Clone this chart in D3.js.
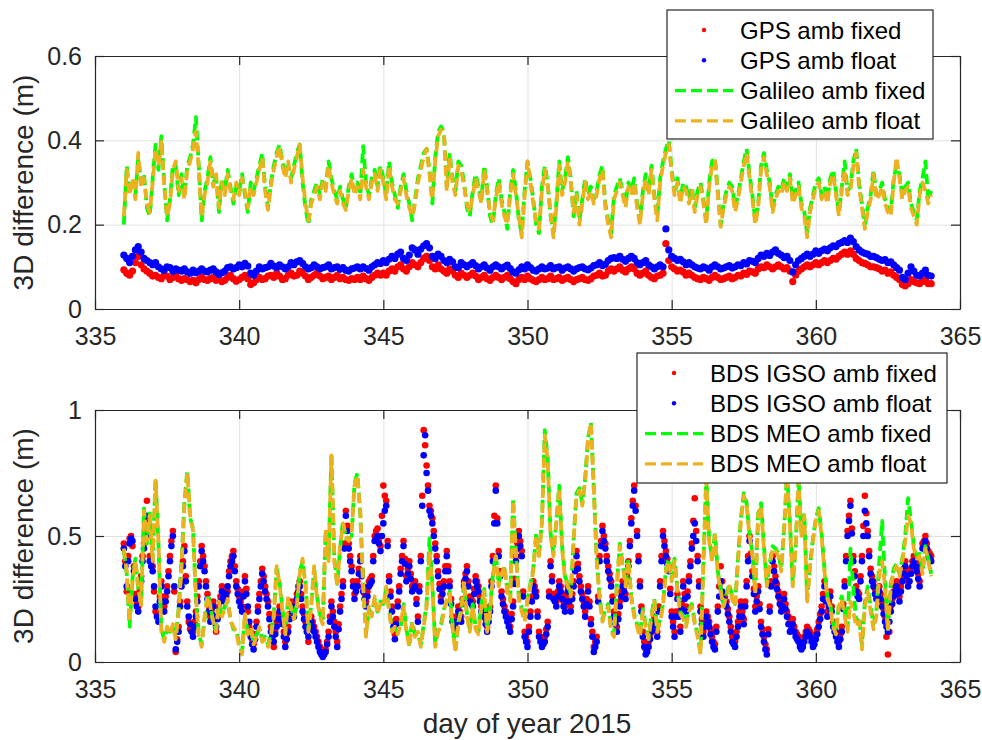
<!DOCTYPE html>
<html>
<head>
<meta charset="utf-8">
<script src="https://cdn.jsdelivr.net/npm/d3@7"></script>
<style>
body { margin: 0; background: #fff; }
</style>
</head>
<body>
<svg id="plot"></svg>
<script>
// epochs start at day 336.0; GPS/Galileo/MEO every 0.1 day, IGSO every 0.05 day
var t0 = 336, dt = 0.1, dtIgso = 0.05;

var xTicks = [335, 340, 345, 350, 355, 360, 365];
var topYTicks = [0, 0.2, 0.4, 0.6];
var botYTicks = [0, 0.5, 1];

var topLabels = ["GPS amb fixed", "GPS amb float", "Galileo amb fixed", "Galileo amb float"];
var botLabels = ["BDS IGSO amb fixed", "BDS IGSO amb float", "BDS MEO amb fixed", "BDS MEO amb float"];

var gpsFixed = [
  .093,.085,.08,.09,.11,.125,.105,.095,.09,.085,   // 336
  .078,.08,.075,.072,.08,.078,.07,.075,.08,.072,
  .068,.072,.07,.065,.068,.062,.07,.075,.07,.068,
  .072,.075,.068,.07,.065,.068,.075,.08,.072,.066,
  .07,.075,.08,.072,.058,.062,.07,.075,.07,.072,   // 340
  .078,.08,.075,.085,.078,.07,.072,.08,.085,.078,
  .08,.09,.085,.078,.07,.075,.08,.085,.078,.072,
  .075,.078,.07,.075,.08,.072,.075,.07,.068,.072,
  .07,.075,.07,.078,.072,.068,.075,.08,.085,.08,
  .085,.08,.09,.095,.09,.1,.105,.095,.09,.1,       // 345
  .11,.105,.1,.11,.12,.125,.115,.1,.095,.105,
  .095,.09,.085,.095,.09,.08,.075,.085,.08,.075,
  .08,.085,.078,.07,.075,.08,.072,.068,.075,.08,
  .075,.07,.075,.08,.072,.065,.06,.07,.075,.07,
  .078,.072,.068,.065,.07,.075,.07,.072,.078,.07,  // 350
  .072,.075,.068,.072,.075,.07,.065,.07,.072,.075,
  .07,.068,.072,.078,.08,.085,.078,.08,.09,.095,
  .09,.095,.1,.092,.088,.095,.1,.095,.085,.08,
  .085,.09,.08,.075,.072,.078,.08,.085,.155,.115,
  .1,.095,.09,.092,.088,.08,.085,.08,.075,.072,    // 355
  .07,.075,.072,.068,.075,.08,.075,.07,.072,.075,
  .078,.072,.075,.08,.078,.085,.082,.09,.088,.085,
  .095,.1,.098,.105,.1,.095,.1,.105,.1,.095,
  .098,.09,.065,.08,.09,.095,.1,.105,.1,.105,
  .11,.105,.11,.115,.11,.115,.12,.118,.125,.13,    // 360
  .135,.13,.138,.13,.12,.115,.11,.108,.105,.1,
  .1,.098,.095,.09,.092,.085,.088,.08,.075,.07,
  .058,.055,.06,.07,.065,.062,.06,.065,.07,.06,
  .06
];

var gpsFloat = [
  .128,.12,.11,.125,.14,.148,.135,.12,.115,.11,      // 336
  .105,.11,.1,.095,.092,.1,.098,.09,.095,.092,
  .09,.095,.088,.085,.092,.086,.09,.095,.09,.088,
  .092,.095,.088,.082,.086,.09,.098,.1,.095,.098,
  .105,.1,.108,.102,.085,.08,.09,.1,.095,.098,       // 340
  .1,.108,.102,.098,.105,.1,.095,.1,.11,.105,
  .112,.115,.108,.1,.095,.098,.105,.1,.095,.098,
  .1,.105,.095,.098,.1,.094,.098,.092,.09,.095,
  .097,.1,.095,.1,.096,.092,.1,.105,.11,.108,
  .115,.11,.118,.125,.12,.13,.135,.12,.115,.128,     // 345
  .145,.14,.13,.142,.15,.155,.145,.125,.12,.13,
  .125,.115,.11,.118,.112,.1,.098,.11,.105,.1,
  .105,.11,.103,.095,.1,.105,.097,.092,.1,.105,
  .1,.095,.1,.104,.096,.088,.085,.093,.1,.095,
  .105,.098,.092,.09,.095,.1,.095,.097,.103,.095,    // 350
  .098,.1,.092,.097,.1,.095,.09,.095,.098,.1,
  .095,.093,.097,.103,.105,.11,.103,.106,.115,.12,
  .122,.12,.125,.118,.113,.12,.125,.12,.11,.105,
  .11,.115,.105,.1,.095,.1,.105,.1,.19,.14,
  .125,.12,.115,.118,.112,.105,.11,.105,.1,.097,     // 355
  .095,.1,.097,.092,.1,.105,.1,.095,.097,.1,
  .103,.097,.1,.105,.103,.11,.107,.115,.113,.11,
  .12,.128,.125,.132,.127,.135,.14,.132,.128,.122,
  .125,.115,.088,.105,.115,.12,.125,.13,.125,.13,
  .138,.132,.138,.142,.138,.145,.15,.148,.155,.158,  // 360
  .162,.158,.168,.16,.148,.14,.135,.132,.13,.125,
  .125,.122,.118,.115,.117,.11,.112,.105,.098,.092,
  .075,.07,.085,.1,.09,.08,.078,.085,.092,.08,
  .078
];

var galFixed = [
  .20,.34,.28,.30,.27,.36,.30,.32,.24,.22,   // 336
  .31,.39,.33,.41,.30,.21,.26,.34,.34,.27,
  .32,.27,.34,.36,.39,.455,.34,.21,.28,.31,
  .36,.30,.31,.23,.31,.28,.33,.29,.25,.29,
  .28,.32,.27,.23,.30,.28,.31,.34,.37,.29,   // 340
  .24,.30,.34,.37,.39,.35,.32,.34,.31,.34,
  .37,.39,.30,.24,.20,.26,.28,.30,.27,.31,
  .29,.35,.31,.28,.26,.29,.26,.24,.29,.32,
  .28,.30,.27,.386,.30,.27,.31,.33,.29,.34,
  .31,.27,.35,.30,.27,.24,.29,.32,.28,.25,   // 345
  .21,.26,.31,.34,.37,.38,.33,.25,.36,.42,
  .433,.42,.29,.37,.31,.28,.35,.34,.30,.24,
  .22,.28,.32,.29,.26,.34,.29,.22,.20,.27,
  .31,.26,.23,.19,.28,.33,.28,.21,.18,.28,
  .35,.31,.26,.20,.18,.29,.34,.30,.22,.18,   // 350
  .25,.35,.28,.31,.36,.31,.22,.28,.21,.26,
  .31,.27,.29,.26,.28,.32,.34,.25,.21,.18,
  .27,.29,.31,.28,.25,.30,.28,.31,.25,.21,
  .28,.32,.28,.34,.27,.22,.31,.35,.38,.40,
  .33,.28,.31,.26,.30,.29,.26,.29,.24,.28,   // 355
  .30,.26,.21,.30,.35,.36,.28,.20,.25,.28,
  .30,.29,.24,.27,.31,.35,.38,.32,.27,.21,
  .25,.34,.37,.33,.30,.24,.27,.29,.28,.31,
  .29,.32,.26,.28,.30,.25,.23,.18,.24,.27,
  .30,.31,.27,.29,.26,.31,.33,.28,.23,.29,   // 360
  .35,.28,.29,.35,.38,.30,.25,.20,.24,.27,
  .33,.27,.28,.30,.26,.24,.23,.31,.34,.32,
  .27,.29,.30,.25,.23,.21,.28,.31,.35,.26,
  .28
];

var galFloat = [
  .22,.33,.27,.31,.26,.37,.29,.31,.25,.23,   // 336
  .30,.38,.34,.40,.29,.22,.25,.33,.35,.28,
  .31,.26,.33,.35,.38,.42,.33,.22,.27,.30,
  .35,.29,.32,.24,.30,.27,.32,.28,.26,.30,
  .27,.31,.28,.24,.29,.27,.30,.33,.36,.28,   // 340
  .235,.29,.33,.36,.385,.34,.31,.35,.30,.33,
  .36,.39,.31,.25,.21,.25,.27,.29,.26,.30,
  .28,.34,.30,.27,.25,.28,.25,.235,.28,.31,
  .27,.29,.26,.33,.29,.26,.30,.32,.28,.33,
  .30,.26,.34,.29,.26,.25,.28,.31,.27,.24,   // 345
  .22,.25,.30,.33,.36,.38,.32,.26,.35,.41,
  .425,.42,.28,.36,.30,.27,.34,.33,.29,.25,
  .23,.27,.31,.28,.25,.33,.28,.23,.21,.26,
  .30,.25,.22,.20,.27,.32,.27,.22,.17,.27,
  .35,.30,.25,.21,.19,.28,.33,.29,.23,.17,   // 350
  .24,.34,.27,.30,.35,.30,.23,.27,.20,.25,
  .30,.26,.28,.25,.27,.31,.33,.24,.20,.17,
  .26,.28,.30,.27,.24,.29,.27,.30,.24,.20,
  .27,.31,.27,.33,.26,.21,.30,.34,.37,.39,
  .32,.27,.30,.25,.29,.28,.25,.28,.23,.27,   // 355
  .29,.25,.20,.29,.34,.35,.27,.195,.24,.27,
  .29,.28,.23,.26,.30,.34,.37,.31,.26,.20,
  .24,.33,.36,.32,.29,.23,.26,.28,.27,.30,
  .28,.31,.25,.27,.29,.24,.22,.17,.23,.26,
  .29,.30,.26,.28,.25,.30,.32,.27,.22,.28,   // 360
  .33,.27,.28,.34,.37,.29,.24,.19,.23,.26,
  .32,.26,.27,.29,.25,.23,.22,.30,.36,.31,
  .26,.28,.29,.24,.22,.20,.27,.30,.28,.25,
  .27
];

// IGSO: 20 values per day
var igsoFixed = [
  .47,.40,.28,.42,.49,.50,.46,.38,.27,.23,.22,.28,.34,.42,.47,.56,.64,.52,.42,.40,   // 336
  .38,.28,.20,.19,.18,.26,.32,.26,.22,.26,.30,.36,.42,.48,.52,.28,.04,.09,.14,.24,
  .32,.40,.46,.34,.24,.16,.13,.13,.12,.16,.20,.26,.32,.40,.46,.42,.38,.32,.27,.22,
  .18,.21,.24,.17,.12,.18,.22,.26,.30,.28,.26,.26,.28,.36,.40,.42,.44,.38,.32,.29,
  .26,.24,.22,.28,.34,.29,.20,.14,.12,.09,.07,.11,.16,.22,.27,.32,.37,.34,.30,.27,   // 340
  .24,.19,.14,.09,.06,.12,.16,.19,.22,.19,.17,.12,.08,.11,.14,.19,.24,.22,.20,.24,
  .27,.30,.32,.27,.22,.19,.16,.12,.08,.15,.18,.16,.14,.12,.10,.08,.06,.04,.03,.04,
  .05,.08,.12,.18,.24,.20,.16,.12,.08,.15,.22,.27,.32,.47,.60,.54,.47,.42,.38,.32,
  .27,.30,.32,.37,.42,.36,.30,.27,.24,.28,.32,.33,.34,.42,.50,.52,.53,.49,.46,.58,
  .70,.66,.64,.48,.34,.28,.22,.16,.11,.17,.24,.30,.37,.42,.48,.41,.34,.37,.40,.35,   // 345
  .30,.31,.32,.25,.18,.30,.42,.66,.92,.86,.78,.70,.62,.60,.57,.52,.47,.42,.36,.31,
  .26,.29,.32,.38,.44,.38,.32,.25,.18,.16,.14,.18,.22,.20,.18,.25,.32,.35,.38,.32,
  .26,.25,.24,.29,.34,.32,.30,.26,.22,.21,.20,.17,.14,.18,.22,.32,.42,.58,.70,.57,
  .44,.36,.28,.25,.22,.20,.18,.16,.14,.19,.24,.33,.42,.47,.52,.48,.44,.28,.12,.10,
  .08,.14,.20,.26,.32,.30,.28,.20,.12,.10,.08,.09,.10,.13,.16,.28,.40,.34,.27,.26,   // 350
  .24,.28,.32,.30,.27,.24,.22,.26,.30,.26,.22,.27,.32,.38,.44,.39,.34,.30,.27,.24,
  .20,.25,.30,.24,.17,.12,.06,.08,.10,.26,.42,.48,.54,.50,.47,.42,.38,.35,.32,.26,
  .20,.17,.14,.19,.24,.28,.32,.30,.27,.34,.40,.48,.57,.64,.70,.62,.52,.42,.32,.22,
  .12,.08,.05,.06,.08,.11,.14,.16,.18,.15,.12,.22,.32,.42,.52,.48,.44,.41,.38,.29,
  .20,.16,.12,.20,.27,.20,.14,.23,.32,.27,.22,.28,.34,.40,.47,.56,.65,.52,.42,.32,   // 355
  .22,.17,.12,.16,.20,.18,.16,.13,.10,.08,.07,.14,.22,.30,.38,.32,.27,.26,.24,.21,
  .18,.14,.10,.09,.08,.12,.16,.20,.24,.20,.17,.24,.32,.42,.50,.43,.36,.29,.22,.26,
  .30,.23,.16,.13,.10,.07,.05,.13,.22,.32,.42,.38,.34,.31,.28,.25,.22,.24,.27,.23,
  .20,.18,.16,.16,.17,.14,.12,.11,.10,.08,.07,.08,.10,.12,.14,.13,.12,.10,.08,.09,
  .11,.13,.16,.19,.22,.27,.32,.26,.20,.24,.28,.22,.16,.14,.12,.10,.08,.11,.14,.23,   // 360
  .32,.42,.52,.58,.64,.53,.42,.36,.30,.28,.27,.34,.42,.54,.66,.59,.52,.44,.37,.34,
  .32,.29,.27,.28,.30,.27,.24,.21,.18,.10,.03,.12,.22,.25,.28,.30,.32,.29,.26,.30,
  .34,.37,.40,.36,.32,.35,.37,.40,.42,.40,.38,.35,.32,.40,.47,.48,.50,.47,.44,.43,
  .42
];

var igsoFloat = [
  .45,.38,.30,.40,.47,.49,.48,.36,.25,.22,.20,.26,.32,.40,.45,.52,.58,.50,.40,.38,   // 336
  .36,.30,.22,.18,.16,.24,.30,.24,.20,.24,.28,.34,.40,.46,.50,.30,.05,.08,.12,.22,
  .30,.38,.44,.32,.22,.18,.15,.12,.10,.14,.18,.24,.30,.38,.44,.40,.36,.30,.25,.20,
  .16,.19,.22,.18,.14,.17,.20,.24,.28,.26,.24,.27,.30,.34,.38,.40,.42,.36,.30,.27,
  .24,.22,.20,.26,.32,.27,.22,.16,.10,.07,.05,.09,.14,.20,.25,.30,.35,.32,.28,.25,   // 340
  .22,.17,.12,.10,.08,.11,.14,.17,.20,.17,.15,.10,.06,.09,.12,.17,.22,.20,.18,.22,
  .25,.28,.30,.25,.20,.17,.14,.12,.10,.13,.16,.14,.12,.10,.08,.06,.04,.03,.02,.03,
  .04,.07,.10,.16,.22,.18,.14,.10,.06,.13,.20,.25,.30,.45,.58,.52,.45,.40,.36,.30,
  .25,.28,.30,.35,.40,.34,.28,.25,.22,.26,.30,.31,.32,.40,.48,.49,.50,.47,.44,.50,
  .55,.60,.62,.46,.32,.26,.20,.14,.09,.15,.22,.28,.35,.40,.46,.39,.32,.35,.38,.33,   // 345
  .28,.29,.30,.23,.16,.28,.40,.62,.82,.90,.75,.68,.60,.58,.55,.50,.45,.40,.34,.29,
  .24,.27,.30,.36,.42,.36,.30,.23,.16,.14,.12,.16,.20,.18,.16,.23,.30,.33,.36,.30,
  .24,.23,.22,.27,.32,.30,.28,.24,.20,.19,.18,.15,.12,.16,.20,.30,.40,.55,.68,.55,
  .42,.34,.26,.23,.20,.18,.16,.14,.12,.17,.22,.31,.40,.45,.50,.46,.42,.26,.10,.08,
  .06,.12,.18,.24,.30,.28,.26,.18,.10,.08,.06,.07,.08,.11,.14,.26,.38,.32,.25,.24,   // 350
  .22,.26,.30,.28,.25,.22,.20,.24,.28,.24,.20,.25,.30,.36,.42,.37,.32,.28,.25,.22,
  .18,.23,.28,.22,.15,.10,.04,.06,.08,.24,.40,.46,.52,.48,.45,.40,.36,.33,.30,.24,
  .18,.15,.12,.17,.22,.26,.30,.28,.25,.32,.38,.46,.55,.62,.68,.60,.50,.40,.30,.20,
  .10,.06,.03,.04,.06,.09,.12,.14,.16,.13,.10,.20,.30,.40,.50,.46,.42,.39,.36,.27,
  .18,.14,.10,.18,.25,.18,.12,.21,.30,.25,.20,.26,.32,.38,.45,.50,.55,.48,.40,.30,   // 355
  .20,.15,.10,.14,.18,.16,.14,.11,.08,.06,.05,.12,.20,.26,.32,.28,.25,.24,.22,.19,
  .16,.12,.08,.07,.06,.10,.14,.18,.22,.18,.15,.22,.30,.40,.48,.41,.34,.27,.20,.24,
  .28,.21,.14,.11,.08,.05,.03,.11,.20,.30,.40,.36,.32,.29,.26,.23,.20,.22,.25,.21,
  .18,.15,.12,.13,.15,.12,.10,.09,.08,.06,.05,.06,.08,.10,.12,.11,.10,.08,.06,.07,
  .09,.11,.14,.17,.20,.25,.30,.24,.18,.22,.26,.20,.14,.12,.10,.08,.06,.09,.12,.21,   // 360
  .30,.40,.50,.56,.62,.51,.40,.34,.28,.26,.25,.32,.40,.50,.60,.55,.50,.42,.35,.32,
  .30,.27,.25,.26,.28,.25,.22,.19,.16,.14,.12,.16,.20,.23,.26,.28,.30,.27,.24,.28,
  .32,.35,.38,.34,.30,.32,.35,.38,.40,.38,.36,.33,.30,.38,.45,.46,.48,.45,.42,.41,
  .40
];

var meoFixed = [
  .44,.35,.14,.33,.41,.29,.23,.61,.47,.59,   // 336
  .41,.73,.47,.13,.09,.13,.12,.14,.10,.21,
  .39,.63,.76,.57,.53,.25,.11,.07,.17,.27,
  .23,.15,.13,.23,.19,.22,.24,.17,.13,.13,
  .07,.04,.18,.12,.13,.08,.11,.13,.09,.10,   // 340
  .07,.11,.19,.37,.32,.21,.12,.25,.22,.18,
  .23,.36,.40,.31,.13,.23,.37,.26,.19,.16,
  .52,.41,.83,.41,.31,.45,.56,.49,.49,.50,
  .71,.75,.59,.31,.11,.21,.19,.25,.20,.24,
  .23,.29,.21,.13,.13,.12,.14,.23,.13,.07,   // 345
  .16,.11,.11,.07,.15,.23,.49,.31,.07,.13,
  .15,.21,.24,.28,.15,.05,.16,.21,.31,.19,
  .13,.23,.14,.12,.23,.29,.13,.21,.35,.43,
  .31,.36,.37,.29,.25,.65,.43,.26,.21,.17,
  .25,.31,.37,.51,.43,.56,.92,.81,.51,.43,   // 350
  .56,.70,.46,.34,.31,.27,.49,.67,.69,.63,
  .73,.89,.95,.69,.41,.26,.17,.21,.23,.13,
  .11,.31,.47,.39,.31,.41,.26,.19,.15,.11,
  .21,.15,.10,.19,.25,.13,.17,.23,.37,.41,
  .33,.41,.29,.20,.18,.15,.21,.23,.16,.11,   // 355
  .04,.39,.74,.49,.41,.51,.36,.29,.23,.27,
  .31,.26,.23,.41,.57,.67,.63,.51,.43,.28,
  .59,.63,.46,.31,.39,.46,.45,.43,.37,.53,
  .75,.56,.31,.46,.73,.51,.59,.25,.39,.49,
  .57,.61,.51,.37,.26,.23,.15,.12,.23,.26,   // 360
  .20,.14,.45,.30,.16,.18,.07,.24,.30,.22,
  .15,.20,.40,.56,.32,.13,.31,.37,.39,.35,
  .41,.50,.65,.56,.46,.42,.43,.36,.46,.41,
  .35
];

var meoFloat = [
  .45,.36,.16,.32,.40,.30,.22,.60,.48,.58,   // 336
  .40,.72,.48,.12,.08,.14,.11,.15,.09,.20,
  .38,.62,.75,.58,.52,.26,.10,.06,.18,.26,
  .22,.16,.12,.24,.18,.21,.25,.16,.14,.12,
  .06,.03,.19,.11,.14,.07,.10,.14,.08,.09,   // 340
  .06,.10,.18,.38,.31,.20,.11,.26,.21,.17,
  .22,.35,.41,.30,.12,.22,.38,.25,.18,.15,
  .53,.40,.82,.40,.30,.46,.55,.50,.48,.51,
  .70,.74,.60,.30,.10,.22,.18,.26,.19,.23,
  .22,.30,.20,.12,.14,.11,.15,.22,.12,.06,   // 345
  .15,.10,.12,.06,.14,.22,.44,.30,.06,.12,
  .14,.20,.25,.27,.14,.04,.15,.20,.32,.18,
  .12,.22,.13,.11,.22,.28,.12,.20,.34,.42,
  .30,.35,.38,.28,.24,.64,.42,.25,.20,.16,
  .24,.30,.36,.50,.42,.55,.90,.80,.50,.42,   // 350
  .55,.69,.45,.33,.30,.26,.48,.66,.68,.62,
  .72,.88,.95,.68,.40,.25,.16,.20,.22,.12,
  .10,.30,.46,.38,.30,.40,.25,.18,.14,.10,
  .20,.14,.09,.18,.24,.12,.16,.22,.36,.40,
  .32,.40,.28,.19,.17,.14,.20,.22,.15,.10,   // 355
  .03,.38,.72,.48,.40,.50,.35,.28,.22,.26,
  .30,.25,.22,.40,.56,.66,.62,.50,.42,.27,
  .58,.62,.45,.30,.38,.45,.44,.42,.36,.52,
  .74,.55,.30,.45,.72,.50,.58,.24,.38,.48,
  .56,.60,.50,.36,.25,.22,.14,.11,.22,.25,   // 360
  .18,.12,.24,.20,.14,.16,.05,.22,.28,.20,
  .13,.18,.35,.40,.30,.12,.30,.36,.38,.34,
  .40,.48,.58,.55,.45,.41,.42,.35,.45,.40,
  .34
];

var W = 982, H = 740;
var axisColor = "#262626", gridColor = "#e1e1e1";
var fontFam = "'Liberation Sans', Arial, Helvetica, sans-serif";

var svg = d3.select("#plot")
    .attr("width", W)
    .attr("height", H)
    .style("display", "block");

svg.append("rect").attr("width", W).attr("height", H).attr("fill", "#fff");

var xScale = d3.scaleLinear().domain([335, 365]).range([95, 960]);

var styleAxis = function(g) {
  g.attr("font-size", 25).attr("font-family", fontFam);
  g.select(".domain").attr("stroke", axisColor).attr("stroke-width", 1.2);
  g.selectAll(".tick line").attr("stroke", axisColor).attr("stroke-width", 1.2);
  g.selectAll(".tick text").attr("fill", axisColor);
};

function drawPanel(p) {
  var yScale = d3.scaleLinear().domain(p.yDomain).range([p.bottom, p.top]);
  var g = svg.append("g");
  var h = p.bottom - p.top;

  // grid
  g.append("g")
      .attr("transform", "translate(0," + p.bottom + ")")
      .call(d3.axisBottom(xScale).tickValues(xTicks).tickSize(-h).tickFormat(""))
      .call(s => s.select(".domain").remove())
      .call(s => s.selectAll("line").attr("stroke", gridColor));
  g.append("g")
      .attr("transform", "translate(95,0)")
      .call(d3.axisLeft(yScale).tickValues(p.yTicks).tickSize(-865).tickFormat(""))
      .call(s => s.select(".domain").remove())
      .call(s => s.selectAll("line").attr("stroke", gridColor));

  // series
  p.series.forEach(function(s) {
    var xAt = (d, i) => xScale(t0 + i * s.step);
    if (s.type == "dot") {
      g.append("g").selectAll("circle")
        .data(s.values)
        .join("circle")
          .attr("cx", xAt)
          .attr("cy", d => yScale(d))
          .attr("r", s.r)
          .attr("fill", s.color);
    } else {
      g.append("path")
        .datum(s.values)
        .attr("fill", "none")
        .attr("stroke", s.color)
        .attr("stroke-width", 3.8)
        .attr("stroke-dasharray", "10,5")
        .attr("stroke-linejoin", "round")
        .attr("d", d3.line().x(xAt).y(d => yScale(d)));
    }
  });

  // box axes with inward ticks
  g.append("g")
      .attr("transform", "translate(0," + p.bottom + ")")
      .call(d3.axisBottom(xScale).tickValues(xTicks).tickSize(-9).tickSizeOuter(0).tickPadding(18).tickFormat(d3.format("d")))
      .call(styleAxis);
  g.append("g")
      .attr("transform", "translate(0," + p.top + ")")
      .call(d3.axisTop(xScale).tickValues(xTicks).tickSize(-9).tickSizeOuter(0).tickFormat(""))
      .call(styleAxis);
  g.append("g")
      .attr("transform", "translate(95,0)")
      .call(d3.axisLeft(yScale).tickValues(p.yTicks).tickSize(-9).tickSizeOuter(0).tickPadding(13).tickFormat(d3.format("~g")))
      .call(styleAxis);
  g.append("g")
      .attr("transform", "translate(960,0)")
      .call(d3.axisRight(yScale).tickValues(p.yTicks).tickSize(-9).tickSizeOuter(0).tickFormat(""))
      .call(styleAxis);

  // y label
  g.append("text")
      .attr("transform", "translate(33," + (p.top + h / 2) + ") rotate(-90)")
      .attr("text-anchor", "middle")
      .attr("font-family", fontFam)
      .attr("font-size", 28)
      .attr("fill", axisColor)
      .text("3D difference (m)");

  // legend
  var lg = svg.append("g");
  var b = p.legend;
  lg.append("rect")
      .attr("x", b.x).attr("y", b.y)
      .attr("width", b.w).attr("height", b.h)
      .attr("fill", "#fff")
      .attr("stroke", axisColor)
      .attr("stroke-width", 1.2);
  p.series.forEach(function(s, i) {
    var cy = b.y + 20 + i * 30.3;
    if (s.type == "dot") {
      lg.append("circle")
        .attr("cx", b.x + 37).attr("cy", cy)
        .attr("r", 2.2)
        .attr("fill", s.color);
    } else {
      lg.append("line")
        .attr("x1", b.x + 8).attr("x2", b.x + 66)
        .attr("y1", cy).attr("y2", cy)
        .attr("stroke", s.color)
        .attr("stroke-width", 3.2)
        .attr("stroke-dasharray", "11,5");
    }
    lg.append("text")
      .attr("x", b.x + 73).attr("y", cy + 8.5)
      .attr("font-family", fontFam)
      .attr("font-size", 24)
      .attr("fill", "#000")
      .text(s.label);
  });
}

drawPanel({
  top: 56, bottom: 309,
  yDomain: [0, 0.6], yTicks: topYTicks,
  legend: {x: 667, y: 10, w: 266, h: 129},
  series: [
    {type: "dot", values: gpsFixed, step: dt, color: "#ff0000", r: 3.6, label: topLabels[0]},
    {type: "dot", values: gpsFloat, step: dt, color: "#0000ff", r: 3.6, label: topLabels[1]},
    {type: "line", values: galFixed, step: dt, color: "#00ff00", label: topLabels[2]},
    {type: "line", values: galFloat, step: dt, color: "#EDB120", label: topLabels[3]}
  ]
});

drawPanel({
  top: 410, bottom: 662,
  yDomain: [0, 1], yTicks: botYTicks,
  legend: {x: 637, y: 353, w: 310, h: 130},
  series: [
    {type: "dot", values: igsoFixed, step: dtIgso, color: "#ff0000", r: 3.3, label: botLabels[0]},
    {type: "dot", values: igsoFloat, step: dtIgso, color: "#0000ff", r: 3.3, label: botLabels[1]},
    {type: "line", values: meoFixed, step: dt, color: "#00ff00", label: botLabels[2]},
    {type: "line", values: meoFloat, step: dt, color: "#EDB120", label: botLabels[3]}
  ]
});

svg.append("text")
    .attr("x", 527).attr("y", 733)
    .attr("text-anchor", "middle")
    .attr("font-family", fontFam)
    .attr("font-size", 28)
    .attr("fill", axisColor)
    .text("day of year 2015");
</script>
</body>
</html>
